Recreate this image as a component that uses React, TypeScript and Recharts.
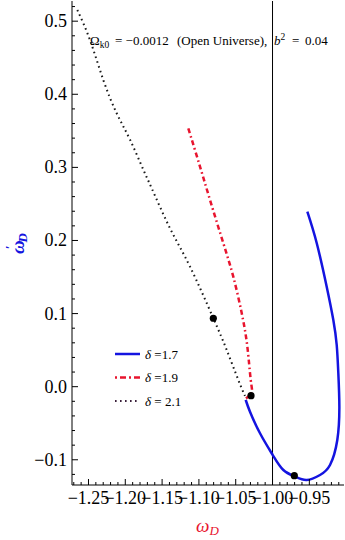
import { ComposedChart, Legend, Line, ReferenceLine, Scatter, XAxis, YAxis } from "recharts"

// δ = 1.7 (blue, solid)
const BLUE_W = [-0.9527, -0.9399, -0.9264, -0.9174, -0.9128, -0.9106, -0.9092, -0.912, -0.9219, -0.9355, -0.9535, -0.9694, -0.9853, -0.9997, -1.017, -1.0306, -1.0364]
const BLUE_WP = [0.2394, 0.1962, 0.1368, 0.0912, 0.057, 0.0183, -0.0274, -0.0729, -0.1071, -0.1208, -0.1276, -0.1231, -0.114, -0.0935, -0.0637, -0.0342, -0.0182]

// δ = 1.9 (red, dash-dot)
const RED_W = [-1.1144, -1.0985, -1.0849, -1.0668, -1.0533, -1.0418, -1.0342, -1.0296, -1.0283, -1.036]
const RED_WP = [0.3535, 0.301, 0.2554, 0.1962, 0.1505, 0.1004, 0.0547, 0.0092, -0.0073, -0.0161]

// δ = 2.1 (black, dotted)
const BLACK_W = [-1.2652, -1.248, -1.2299, -1.2117, -1.1936, -1.1755, -1.1641, -1.1393, -1.1121, -1.0804, -1.0622, -1.0465, -1.0374]
const BLACK_WP = [0.5153, 0.4743, 0.4196, 0.374, 0.3379, 0.2968, 0.2714, 0.2167, 0.1642, 0.0936, 0.0502, 0.0092, -0.0127]

// present-day points
const DOT_W = [-0.9704, -1.0292, -1.0804]
const DOT_WP = [-0.1217, -0.0123, 0.0936]

const SERIES_NAMES = ["=1.7", "=1.9", "= 2.1"]

const X_TICKS = [-1.27, -1.26, -1.25, -1.24, -1.23, -1.22, -1.21, -1.2, -1.19, -1.18, -1.17, -1.16, -1.15, -1.14, -1.13, -1.12, -1.11, -1.1, -1.09, -1.08, -1.07, -1.06, -1.05, -1.04, -1.03, -1.02, -1.01, -1, -0.99, -0.98, -0.97, -0.96, -0.95, -0.94, -0.93, -0.92, -0.91]
const Y_TICKS = [-0.12, -0.1, -0.08, -0.06, -0.04, -0.02, 0, 0.02, 0.04, 0.06, 0.08, 0.1, 0.12, 0.14, 0.16, 0.18, 0.2, 0.22, 0.24, 0.26, 0.28, 0.3, 0.32, 0.34, 0.36, 0.38, 0.4, 0.42, 0.44, 0.46, 0.48, 0.5, 0.52]

const X_DOMAIN = [-1.2724, -0.9029]
const Y_DOMAIN = [-0.1345, 0.5276]

const FONT = "Liberation Serif"
const BLUE = "#1414e0"
const RED = "#e8142e"
const BLACK = "#1a1a1a"

const zip = (w: number[], wp: number[]) => w.map((v, i) => ({ w: v, wp: wp[i] }))
const blueData = zip(BLUE_W, BLUE_WP)
const redData = zip(RED_W, RED_WP)
const blackData = zip(BLACK_W, BLACK_WP)
const dotData = zip(DOT_W, DOT_WP)

const isMajor = (v: number, step: number) => Math.abs(v / step - Math.round(v / step)) < 1e-6
const fmt = (v: number, d: number) => v.toFixed(d).replace("-", "\u2212")

const serif = (size: number) => ({ fontFamily: FONT, fontSize: size })

function BottomTick({ x, y, payload }: any) {
    const major = isMajor(payload.value, 0.05)
    return (
        <g>
            <line x1={x} x2={x} y1={y} y2={y - (major ? 6 : 3)} stroke="#000" />
            {major && (
                <text x={x} y={y + 19} textAnchor="middle" style={serif(18)} fill="#000">
                    {fmt(payload.value, 2)}
                </text>
            )}
        </g>
    )
}

function TopTick({ x, y, payload }: any) {
    const major = isMajor(payload.value, 0.05)
    return <line x1={x} x2={x} y1={y} y2={y + (major ? 6 : 3)} stroke="#000" />
}

function LeftTick({ x, y, payload }: any) {
    const major = isMajor(payload.value, 0.1)
    return (
        <g>
            <line x1={x} x2={x + (major ? 6 : 3)} y1={y} y2={y} stroke="#000" />
            {major && (
                <text x={x - 5} y={y + 6} textAnchor="end" style={serif(18)} fill="#000">
                    {fmt(payload.value, 1)}
                </text>
            )}
        </g>
    )
}

function RightTick({ x, y, payload }: any) {
    const major = isMajor(payload.value, 0.1)
    return <line x1={x} x2={x - (major ? 6 : 3)} y1={y} y2={y} stroke="#000" />
}

const legendStyles = [
    { stroke: BLUE, dash: undefined, width: 2.5 },
    { stroke: RED, dash: "2 3 6 3", width: 2.5 },
    { stroke: "#3a1f3a", dash: "1.6 3.4", width: 2 },
]

function LegendBox() {
    return (
        <svg width={80} height={68}>
            {SERIES_NAMES.map((name, i) => {
                const cy = 10 + i * 23.5
                const s = legendStyles[i]
                return (
                    <g key={name}>
                        <line x1={3} x2={28} y1={cy} y2={cy} stroke={s.stroke} strokeWidth={s.width} strokeDasharray={s.dash} />
                        <text x={33} y={cy + 4.5} style={serif(13)} fill="#000">
                            <tspan fontStyle="italic">δ</tspan> {name}
                        </text>
                    </g>
                )
            })}
        </svg>
    )
}

export default function App() {
    return (
        <div style={{ position: "absolute", left: 0, top: 0, fontFamily: FONT }}>
            <ComposedChart width={345} height={540} margin={{ top: 1, right: 1, bottom: 0, left: 0 }}>
                <XAxis
                    dataKey="w"
                    type="number"
                    domain={X_DOMAIN}
                    allowDataOverflow
                    ticks={X_TICKS}
                    interval={0}
                    tickLine={false}
                    tickSize={0}
                    tickMargin={0}
                    axisLine={{ stroke: "#000" }}
                    height={55}
                    tick={<BottomTick />}
                />
                <XAxis
                    xAxisId="top"
                    orientation="top"
                    dataKey="w"
                    type="number"
                    domain={X_DOMAIN}
                    allowDataOverflow
                    ticks={X_TICKS}
                    interval={0}
                    tickLine={false}
                    tickSize={0}
                    tickMargin={0}
                    axisLine={{ stroke: "#000" }}
                    height={0}
                    tick={<TopTick />}
                />
                <YAxis
                    dataKey="wp"
                    type="number"
                    domain={Y_DOMAIN}
                    allowDataOverflow
                    ticks={Y_TICKS}
                    interval={0}
                    tickLine={false}
                    tickSize={0}
                    tickMargin={0}
                    axisLine={{ stroke: "#000" }}
                    width={72}
                    tick={<LeftTick />}
                />
                <YAxis
                    yAxisId="right"
                    orientation="right"
                    dataKey="wp"
                    type="number"
                    domain={Y_DOMAIN}
                    allowDataOverflow
                    ticks={Y_TICKS}
                    interval={0}
                    tickLine={false}
                    tickSize={0}
                    tickMargin={0}
                    axisLine={{ stroke: "#000" }}
                    width={0}
                    tick={<RightTick />}
                />
                <ReferenceLine x={-1} stroke="#000" strokeWidth={1} />
                <Line data={blackData} dataKey="wp" name={SERIES_NAMES[2]} type="natural" stroke={BLACK} strokeWidth={2} strokeDasharray="1.6 3.4" dot={false} isAnimationActive={false} />
                <Line data={redData} dataKey="wp" name={SERIES_NAMES[1]} type="natural" stroke={RED} strokeWidth={2.5} strokeDasharray="5 3 1.6 3" dot={false} isAnimationActive={false} />
                <Line data={blueData} dataKey="wp" name={SERIES_NAMES[0]} type="natural" stroke={BLUE} strokeWidth={2.5} dot={false} isAnimationActive={false} />
                <Scatter
                    data={dotData}
                    dataKey="wp"
                    isAnimationActive={false}
                    shape={(p: any) => <circle cx={p.cx} cy={p.cy} r={3.6} fill="#000" />}
                />
                <Legend
                    verticalAlign="middle"
                    content={() => <LegendBox />}
                    wrapperStyle={{ left: 112, top: 344, width: 80, height: 68 }}
                />
                <text y={45} style={serif(13)} fill="#000">
                    <tspan x={90}>Ω</tspan>
                    <tspan fontSize={9.5} dy={3}>k0</tspan>
                    <tspan x={115} dy={-3}>= −0.0012</tspan>
                    <tspan x={177}>(Open Universe),</tspan>
                    <tspan x={274} fontStyle="italic">b</tspan>
                    <tspan fontSize={9.5} dy={-5}>2</tspan>
                    <tspan x={292} dy={5}>=</tspan>
                    <tspan x={305}>0.04</tspan>
                </text>
                <text x={196} y={532} style={serif(19)} fontStyle="italic" fill={RED}>
                    ω<tspan fontSize={13} dy={3}>D</tspan>
                </text>
                <text transform="translate(24,254) rotate(-90)" style={serif(19)} fontStyle="italic" fontWeight="bold" fill={BLUE}>
                    ω<tspan fontSize={13} dx={-9} dy={-10}>′</tspan>
                    <tspan fontSize={13} dx={3} dy={13}>D</tspan>
                </text>
            </ComposedChart>
        </div>
    )
}
